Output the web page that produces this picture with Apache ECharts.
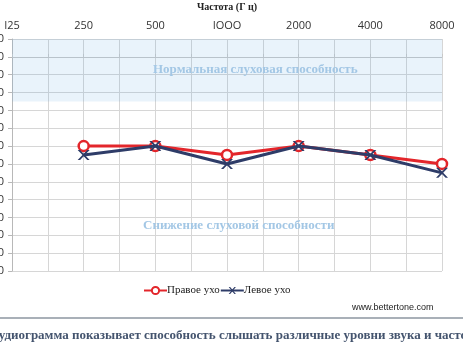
<!DOCTYPE html>
<html>
<head>
<meta charset="utf-8">
<script src="https://cdn.jsdelivr.net/npm/echarts@6/dist/echarts.min.js"></script>
<style>
html,body{margin:0;padding:0;background:#fff;}
#chart{width:463px;height:348px;}
</style>
</head>
<body>
<div id="chart"></div>
<script>
// Frequencies (Hz) along the top axis
const frequencies = ['I25', '250', '500', 'IOOO', '2000', '4000', '8000'];
// Hearing thresholds (dB) for each ear, from 250 Hz to 8000 Hz
const rightEar = [null, 50, 50, 55, 50, 55, 60];
const leftEar = [null, 55, 50, 60, 50, 55, 65];
// Hearing level scale
const levelMin = -10, levelMax = 120, levelStep = 10;
// Normal hearing zone
const normalZone = [-10, 25];

const toPoints = arr => arr.map((v, i) => [i, v]).filter(p => p[1] !== null);

const serif = '"Liberation Serif", "DejaVu Serif", serif';
const xPath = 'path://M0,0 L2,0 L5,3 L8,0 L10,0 L6,4 L10,8 L8,8 L5,5 L2,8 L0,8 L4,4 Z';

const chart = echarts.init(document.getElementById('chart'));
chart.setOption({
  animation: false,
  grid: { left: 12, right: 21, top: 39, bottom: 77, containLabel: false, outerBoundsMode: 'none' },
  xAxis: {
    type: 'value',
    position: 'top',
    min: 0,
    max: frequencies.length - 1,
    interval: 0.5,
    name: 'Частота (Г ц)',
    nameLocation: 'middle',
    nameGap: 27,
    nameTextStyle: { fontFamily: serif, fontWeight: 'bold', fontSize: 10, color: '#222' },
    axisLine: { show: true, lineStyle: { color: '#c8c8c8' } },
    axisTick: { show: true, length: 3, lineStyle: { color: '#c8c8c8' } },
    axisLabel: {
      margin: 8,
      fontFamily: '"Open Sans", sans-serif',
      fontSize: 11,
      color: '#333',
      formatter: v => Number.isInteger(v) ? frequencies[v] : ''
    },
    splitLine: { show: true, lineStyle: { color: '#d6d6d6', width: 1 } }
  },
  yAxis: {
    type: 'value',
    inverse: true,
    min: levelMin,
    max: levelMax,
    interval: levelStep,
    axisLine: { show: true, lineStyle: { color: '#b8b8b8' } },
    axisTick: { show: true, length: 4, lineStyle: { color: '#b8b8b8' } },
    axisLabel: { margin: 8, fontFamily: '"Open Sans", sans-serif', fontSize: 11, color: '#333' },
    splitLine: { show: true, lineStyle: { color: '#d6d6d6', width: 1 } }
  },
  legend: {
    top: 285,
    left: 143,
    itemGap: 0,
    itemWidth: 23,
    itemHeight: 9,
    padding: 0,
    textStyle: { fontFamily: serif, fontSize: 11, color: '#222', padding: [0, 0, 0, -5] },
    data: ['Правое ухо', 'Левое ухо']
  },
  series: [
    {
      name: 'Правое ухо',
      type: 'line',
      data: toPoints(rightEar),
      symbol: 'circle',
      symbolSize: 10,
      lineStyle: { color: '#e3262b', width: 3 },
      itemStyle: { color: '#fff', borderColor: '#e3262b', borderWidth: 2.5 },
      z: 3,
      markArea: {
        silent: true,
        itemStyle: { color: 'rgba(100,170,230,0.14)' },
        data: [[{ yAxis: normalZone[0] }, { yAxis: normalZone[1] }]]
      }
    },
    {
      name: 'Левое ухо',
      type: 'line',
      data: toPoints(leftEar),
      symbol: xPath,
      symbolSize: [12, 10],
      lineStyle: { color: '#2e3c68', width: 3 },
      itemStyle: { color: '#2e3c68' },
      z: 4
    }
  ],
  graphic: [
    {
      type: 'text', left: 153, top: 63, z: 100,
      style: { text: 'Нормальная слуховая способность', font: 'bold 13px ' + serif, fill: '#a3c7e5' }
    },
    {
      type: 'text', left: 143, top: 219, z: 100,
      style: { text: 'Снижение слуховой способности', font: 'bold 13px ' + serif, fill: '#a3c7e5' }
    },
    {
      type: 'text', left: 352, top: 303,
      style: { text: 'www.bettertone.com', font: '9px "Liberation Sans", sans-serif', fill: '#222' }
    },
    {
      type: 'rect', left: 0, top: 317,
      shape: { width: 463, height: 2 },
      style: { fill: '#a9b0b8' }
    },
    {
      type: 'text', x: -10, y: 329,
      style: { text: 'Аудиограмма показывает способность слышать различные уровни звука и частоты', font: 'bold 13px ' + serif, fill: '#44546e' }
    }
  ]
});
</script>
</body>
</html>
